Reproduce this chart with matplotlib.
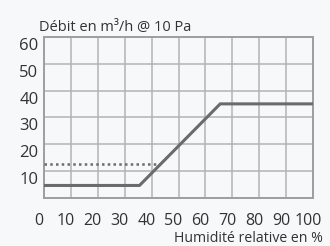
import matplotlib
matplotlib.use('Agg')
import matplotlib.pyplot as plt
from matplotlib.transforms import ScaledTranslation

# humidity-controlled flow curve
humidity = [0, 35.5, 65.5, 100]
flow = [4.5, 4.5, 35, 35]

# dotted reference level
dotted_x = [0, 43]
dotted_y = [12.5, 12.5]

x_ticks = list(range(0, 101, 10))
y_ticks = [10, 20, 30, 40, 50, 60]

plt.rcParams['font.family'] = ['Open Sans', 'DejaVu Sans']
bg = '#f7f8fa'
txt = '#333333'

fig = plt.figure(figsize=(3.3, 2.46), dpi=100, facecolor=bg)
ax = fig.add_axes([44 / 330, 48.5 / 246, 269 / 330, 160.5 / 246])
ax.set_facecolor(bg)

ax.plot(humidity, flow, color='#6b6b6b', lw=2.2, solid_capstyle='butt', zorder=3)
ax.plot(dotted_x, dotted_y, color='#6b6b6b', lw=1.8, linestyle=(0, (1, 1.3)), zorder=3)

ax.set_xlim(0, 100)
ax.set_ylim(0, 60)
ax.set_xticks(x_ticks)
ax.set_yticks([0] + y_ticks)
ax.set_yticklabels([''] + [str(v) for v in y_ticks])
ax.grid(True, color='#b3b3b3', lw=1.1)
ax.set_axisbelow(True)
for s in ax.spines.values():
    s.set_color('#9e9e9e')
    s.set_linewidth(1.4)

ax.tick_params(length=0, labelsize=12, labelcolor=txt)
ax.tick_params(axis='x', pad=11, labelsize=11.5)
ax.tick_params(axis='y', pad=4)

# labels hang under their gridlines / sit slightly left, as in the source graphic
for lbl in ax.get_yticklabels():
    lbl.set_va('top')
    lbl.set_transform(lbl.get_transform() + ScaledTranslation(0, -1 / 100, fig.dpi_scale_trans))
for lbl in ax.get_xticklabels():
    lbl.set_transform(lbl.get_transform() + ScaledTranslation(-5 / 100, 0, fig.dpi_scale_trans))

fig.text(39 / 330, 1 - 31 / 246, 'Débit en m³/h @ 10 Pa', fontsize=10.5, color=txt,
         ha='left', va='baseline')
fig.text(323 / 330, 1 - 242 / 246, 'Humidité relative en %', fontsize=10.2, color=txt,
         ha='right', va='baseline')

fig.savefig('out.png', dpi=100, facecolor=bg)
